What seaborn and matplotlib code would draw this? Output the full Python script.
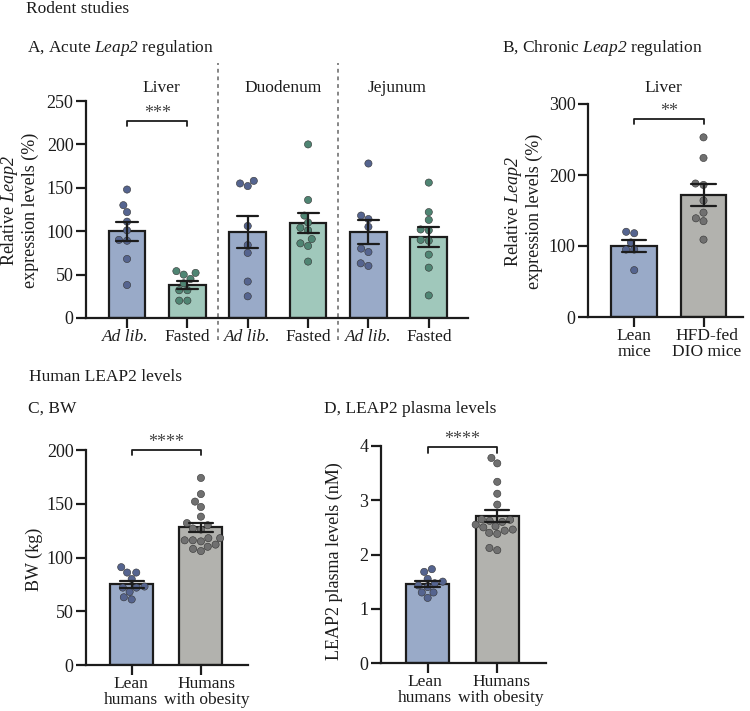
import matplotlib
matplotlib.use("Agg")
import matplotlib.pyplot as plt
import seaborn as sns
import pandas as pd
import numpy as np

# --- valores ---
# A, regulacion aguda (%)
liver_adlib = [148, 130, 122, 111, 101, 90, 89, 68, 38]
liver_fasted = [54, 52, 50, 45, 40, 32, 32, 20, 20]
duod_adlib = [158, 155, 152, 106, 84, 75, 42, 25]
duod_fasted = [200, 136, 118, 110, 104, 101, 91, 86, 83, 65]
jej_adlib = [178, 118, 114, 105, 80, 76, 63, 60]
jej_fasted = [156, 122, 113, 102, 101, 90, 89, 73, 58, 26]
acute_labels = ["Ad lib.", "Fasted", "Ad lib.", "Fasted", "Ad lib.", "Fasted"]
tissues = ["Liver", "Duodenum", "Jejunum"]

# B, regulacion cronica (%)
chronic_lean = [120, 118, 105, 95, 95, 66]
chronic_hfd = [253, 224, 188, 186, 164, 147, 139, 135, 109]
chronic_labels = ["Lean\nmice", "HFD-fed\nDIO mice"]

# C, peso corporal (kg)
bw_lean = [91, 86, 86, 80, 73, 72, 72, 68, 63, 61]
bw_obese = [174, 159, 152, 147, 138, 132, 130, 127, 126, 118, 118, 116, 115,
            116, 112, 110, 108, 106]
# D, LEAP2 plasma (nM)
leap2_lean = [1.73, 1.68, 1.55, 1.50, 1.47, 1.43, 1.40, 1.30, 1.30, 1.20]
leap2_obese = [3.78, 3.68, 3.34, 3.12, 2.92, 2.65, 2.62, 2.64, 2.60, 2.55, 2.52,
               2.50, 2.46, 2.44, 2.40, 2.38, 2.08, 2.12]
human_labels = ["Lean\nhumans", "Humans\nwith obesity"]

BLUE, GREEN, GREY = "#91A8D0", "#99CFBD", "#B3B3AD"
BLUE_D, GREEN_D, GREY_D = "#55648F", "#4F8573", "#707070"
INK = "#1c1c1c"
FS = 12.5

sns.set_theme(style="ticks")
plt.rcParams["font.family"] = ["Liberation Serif", "DejaVu Serif"]
plt.rcParams["mathtext.fontset"] = "custom"
plt.rcParams["mathtext.rm"] = "Liberation Serif"
plt.rcParams["mathtext.it"] = "Liberation Serif:italic"
plt.rcParams["mathtext.cal"] = "Liberation Serif:italic"  # cursiva tambien para digitos

W, H = 750, 711
fig = plt.figure(figsize=(W / 100, H / 100), dpi=100)


def px_axes(x0, x1, ytop, ybot):
    return fig.add_axes([x0 / W, 1 - ybot / H, (x1 - x0) / W, (ybot - ytop) / H])


def ftext(x, y, s, **kw):
    kw.setdefault("fontsize", FS)
    fig.text(x / W, 1 - y / H, s, color=INK, **kw)


def panel(ax, groups, values, bars, dots, width, xlim, ylim, yticks):
    df = pd.DataFrame({
        "group": np.repeat(groups, [len(v) for v in values]),
        "value": np.concatenate(values),
    })
    sns.barplot(data=df, x="group", y="value", hue="group", order=groups,
                hue_order=groups, palette=bars, errorbar="se", capsize=0.35,
                width=width, edgecolor=INK, linewidth=1.6, legend=False,
                err_kws={"color": INK, "linewidth": 1.6, "zorder": 5}, ax=ax)
    sns.swarmplot(data=df, x="group", y="value", hue="group", order=groups,
                  hue_order=groups, palette=dots, size=5.2, edgecolor="#333",
                  linewidth=0.4, legend=False, ax=ax, zorder=4)
    ax.set_xlim(*xlim)
    ax.set_ylim(*ylim)
    ax.set_yticks(yticks)
    ax.set_xticks(range(len(groups)))
    ax.set_xticklabels([])
    ax.set_xlabel("")
    ax.set_ylabel("")
    sns.despine(ax=ax)
    for sp in ["left", "bottom"]:
        ax.spines[sp].set_linewidth(1.6)
        ax.spines[sp].set_color(INK)
    ax.tick_params(axis="both", length=7, width=1.6, color=INK, labelsize=13,
                   labelcolor=INK, pad=2)


def xlabels(ax, labels, shifts, italic=()):
    # etiquetas del eje x, con el pequeño desplazamiento que trae la figura
    for i, (lab, dx) in enumerate(zip(labels, shifts)):
        ax.annotate(lab, xy=(i, 0), xycoords=ax.get_xaxis_transform(),
                    xytext=(dx, -11), textcoords="offset pixels", ha="center",
                    va="top", fontsize=FS, color=INK, linespacing=1.0,
                    fontstyle="italic" if lab in italic else "normal")


def bracket(ax, x0, x1, y, drop, stars):
    ax.plot([x0, x0, x1, x1], [y - drop, y, y, y - drop], color=INK, lw=1.3,
            clip_on=False)
    ax.annotate(stars, xy=((x0 + x1) / 2, y), xytext=(0, 3),
                textcoords="offset pixels", ha="center", va="baseline",
                fontsize=13, color="#444")


# ---- A ----
axA = px_axes(86, 468, 101, 318)
acute_groups = ["la", "lf", "da", "df", "ja", "jf"]
panel(axA, acute_groups,
      [liver_adlib, liver_fasted, duod_adlib, duod_fasted, jej_adlib, jej_fasted],
      [BLUE, GREEN] * 3, [BLUE_D, GREEN_D] * 3, 0.61, (-0.68, 5.65), (0, 250),
      range(0, 251, 50))
xlabels(axA, acute_labels, [-2, 0, 0, 0, 0, 0], italic=("Ad lib.",))
for xs in [1.5, 3.5]:
    axA.plot([xs, xs], [-25, 294], ls=(0, (2.5, 2.5)), color="#666", lw=1.1,
             clip_on=False)
for t, xc in zip(tissues, [0.57, 2.58, 4.47]):
    axA.text(xc, 1.04, t, transform=axA.get_xaxis_transform(), ha="center",
             va="baseline", fontsize=FS, color=INK)
bracket(axA, 0, 1, 227, 6, "***")

# ---- B ----
axB = px_axes(588, 743, 104, 317)
panel(axB, ["lean", "hfd"], [chronic_lean, chronic_hfd], [BLUE, GREY],
      [BLUE_D, GREY_D], 0.66, (-0.667, 1.57), (0, 300), [0, 100, 200, 300])
xlabels(axB, chronic_labels, [0, 3])
bracket(axB, 0, 1, 279, 7, "**")
ftext(663, 92, "Liver", ha="center", va="baseline")

# ---- C ----
axC = px_axes(86, 248, 450, 665)
panel(axC, ["lean", "obese"], [bw_lean, bw_obese], [BLUE, GREY],
      [BLUE_D, GREY_D], 0.62, (-0.66, 1.68), (0, 200), range(0, 201, 50))
xlabels(axC, human_labels, [-1, 6])
bracket(axC, 0, 1, 200, 5, "****")

# ---- D ----
axD = px_axes(381, 546, 446, 663)
panel(axD, ["lean", "obese"], [leap2_lean, leap2_obese], [BLUE, GREY],
      [BLUE_D, GREY_D], 0.62, (-0.67, 1.70), (0, 4), [0, 1, 2, 3, 4])
xlabels(axD, human_labels, [-3, 4])
bracket(axD, 0, 1, 3.98, 0.1, "****")

# ---- textos ----
ftext(26, 13, "Rodent studies", ha="left", va="baseline")
ftext(27, 52, r"A, Acute $\mathcal{Leap2}$ regulation", ha="left", va="baseline")
ftext(502, 52, r"B, Chronic $\mathcal{Leap2}$ regulation", ha="left", va="baseline")
ftext(29, 381, "Human LEAP2 levels", ha="left", va="baseline")
ftext(28, 413, "C, BW", ha="left", va="baseline")
ftext(324, 413, "D, LEAP2 plasma levels", ha="left", va="baseline")

ylab = "Relative $\\mathcal{Leap2}$\nexpression levels (%)"
for xc, yc in [(19, 210), (523, 211)]:
    ftext(xc, yc, ylab, rotation=90, ha="center", va="center", linespacing=1.1,
          fontsize=13)
ftext(34, 559, "BW (kg)", rotation=90, ha="center", va="center", fontsize=13)
ftext(334, 561, "LEAP2 plasma levels (nM)", rotation=90, ha="center",
      va="center", fontsize=13)

fig.savefig("out.png", dpi=100)
